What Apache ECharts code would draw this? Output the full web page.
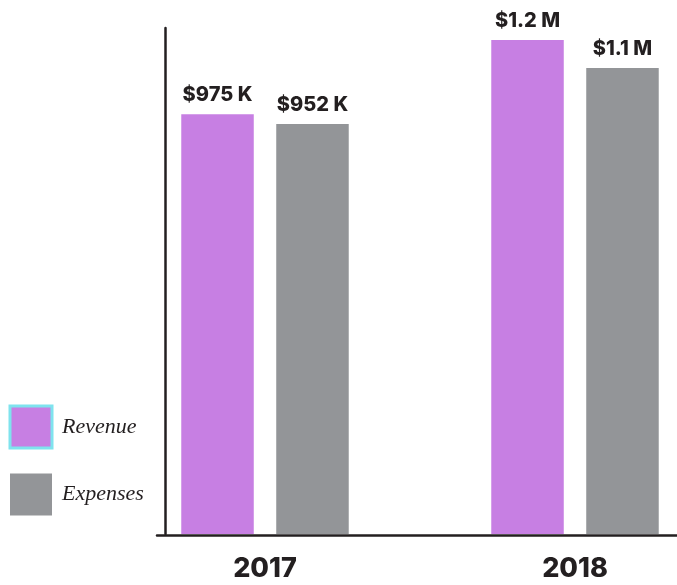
<!DOCTYPE html>
<html>
<head>
<meta charset="utf-8">
<script src="https://cdn.jsdelivr.net/npm/echarts@6/dist/echarts.min.js"></script>
<style>
html,body{margin:0;padding:0;background:#fff;}
#chart{width:677px;height:585px;}
</style>
</head>
<body>
<div id="chart"></div>
<script>
var categories = ['2017', '2018'];
var seriesNames = ['Revenue', 'Expenses'];
var revenue = [975, 1147];      // thousands of dollars
var expenses = [952, 1082];     // thousands of dollars
var revenueLabels = ['$975 K', '$1.2 M'];
var expensesLabels = ['$952 K', '$1.1 M'];

var chart = echarts.init(document.getElementById('chart'));

function labelFor(list) {
  return {
    show: true,
    position: 'top',
    distance: 9,
    formatter: function (p) { return list[p.dataIndex]; },
    fontFamily: 'Inter',
    fontWeight: 800,
    fontSize: 20,
    color: '#231f20'
  };
}

chart.setOption({
  backgroundColor: '#ffffff',
  animation: false,
  legend: {
    orient: 'vertical',
    left: 8.5,
    top: 404.5,
    padding: 0,
    itemWidth: 42,
    itemHeight: 42,
    itemGap: 24,
    selectedMode: false,
    icon: 'rect',
    textStyle: {
      fontFamily: 'Liberation Serif',
      fontStyle: 'italic',
      fontSize: 22,
      color: '#231f20',
      padding: [0, 0, 0, 5]
    },
    data: [
      { name: seriesNames[0], itemStyle: { borderColor: '#7fe3ee', borderWidth: 3 } },
      { name: seriesNames[1] }
    ]
  },
  grid: [
    { left: 110, width: 620, top: 28, bottom: 51, containLabel: false, outerBoundsMode: 'none' },
    { left: 157, right: 0, top: 28, bottom: 50, containLabel: false, outerBoundsMode: 'none' }
  ],
  xAxis: [
    {
      type: 'category',
      gridIndex: 0,
      data: categories,
      axisLine: { show: false },
      axisTick: { show: false },
      axisLabel: {
        margin: 21,
        fontFamily: 'Inter',
        fontWeight: 800,
        fontSize: 27,
        color: '#231f20'
      }
    },
    {
      type: 'value',
      gridIndex: 1,
      min: 0,
      max: 1,
      axisLine: { show: true, lineStyle: { color: '#231f20', width: 2.5 } },
      axisTick: { show: false },
      axisLabel: { show: false },
      splitLine: { show: false }
    }
  ],
  yAxis: [
    {
      type: 'value',
      gridIndex: 0,
      min: 0,
      max: 1175,
      offset: -55,
      axisLine: { show: true, lineStyle: { color: '#231f20', width: 2.5 } },
      axisTick: { show: false },
      axisLabel: { show: false },
      splitLine: { show: false }
    },
    {
      type: 'value',
      gridIndex: 1,
      show: false
    }
  ],
  series: [
    {
      name: seriesNames[0],
      type: 'bar',
      xAxisIndex: 0,
      yAxisIndex: 0,
      data: revenue,
      barWidth: 72.5,
      barGap: '31%',
      itemStyle: { color: '#c77fe3' },
      label: labelFor(revenueLabels)
    },
    {
      name: seriesNames[1],
      type: 'bar',
      xAxisIndex: 0,
      yAxisIndex: 0,
      data: expenses,
      barWidth: 72.5,
      barGap: '31%',
      itemStyle: { color: '#939598' },
      label: labelFor(expensesLabels)
    }
  ]
});
</script>
</body>
</html>
